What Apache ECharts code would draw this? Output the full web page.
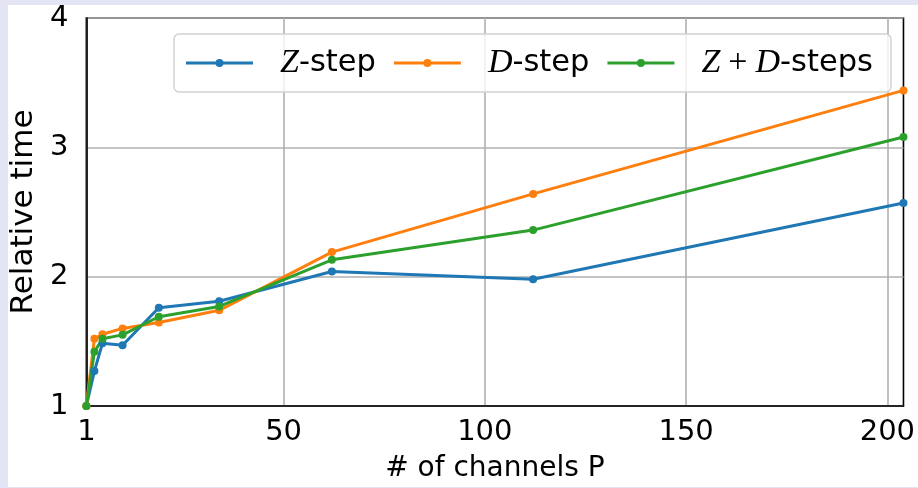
<!DOCTYPE html>
<html>
<head>
<meta charset="utf-8">
<script src="https://cdn.jsdelivr.net/npm/echarts@6/dist/echarts.min.js"></script>
<style>
  html, body { margin: 0; padding: 0; }
  #wrap { position: relative; width: 918px; height: 488px; background: #e3e4f4; overflow: hidden; }
  #panel { position: absolute; left: 8px; top: 5px; width: 910px; height: 482px; background: #ffffff; }
  #chart { position: absolute; left: 0; top: 0; width: 918px; height: 488px; }
</style>
</head>
<body>
<div id="wrap"><div id="panel"></div><div id="chart"></div></div>
<script>
const channels = [1, 3, 5, 10, 19, 34, 62, 112, 204];
const zStep = [1.0, 1.27, 1.485, 1.47, 1.76, 1.81, 2.04, 1.98, 2.57];
const dStep = [1.0, 1.52, 1.555, 1.60, 1.645, 1.74, 2.19, 2.64, 3.44];
const zdSteps = [1.0, 1.42, 1.52, 1.55, 1.69, 1.77, 2.13, 2.36, 3.08];
const xTicks = [1, 50, 100, 150, 200];
const yTicks = [1, 2, 3, 4];
const seriesNames = ['Z-step', 'D-step', 'Z+D-steps'];
const legendRich = {
  'Z-step': '{m|Z}-step',
  'D-step': '{m|D}-step',
  'Z+D-steps': '{m|Z}{p|+}{m|D}-steps'
};

const pair = (xs, ys) => xs.map((x, i) => [x, ys[i]]);
const colors = ['#1f77b4', '#ff7f0e', '#2ca02c'];
const font = 'DejaVu Sans';
const legendIcon = 'path://M0,2.5L67,2.5L67,5.5L0,5.5Z M29.5,4A4,4 0 1 1 37.5,4A4,4 0 1 1 29.5,4Z';

const chart = echarts.init(document.getElementById('chart'), null, { renderer: 'canvas' });
const mkSeries = (name, data, color) => ({
  name: name,
  type: 'line',
  data: data,
  color: color,
  symbol: 'circle',
  symbolSize: 8,
  showAllSymbol: true,
  lineStyle: { width: 3, color: color },
  itemStyle: { color: color },
  emphasis: { disabled: true },
  animation: false,
  clip: true
});

chart.setOption({
  backgroundColor: 'transparent',
  animation: false,
  textStyle: { fontFamily: font },
  grid: {
    left: 84, right: 14, top: 18, bottom: 82,
    show: true, borderColor: '#000000', borderWidth: 1.6, backgroundColor: 'transparent'
  },
  xAxis: {
    type: 'value',
    min: 1,
    max: 204,
    name: '# of channels P',
    nameLocation: 'middle',
    nameGap: 49,
    nameTextStyle: { fontFamily: font, fontSize: 28, color: '#000' },
    axisLine: { show: true, onZero: false, lineStyle: { color: '#000', width: 1.6 } },
    axisTick: { show: true, length: 0, customValues: xTicks },
    axisLabel: { customValues: xTicks, fontFamily: font, fontSize: 29, color: '#000', margin: 12 },
    splitLine: { show: true, lineStyle: { color: '#b0b0b0', width: 1.6 } }
  },
  yAxis: {
    type: 'value',
    min: yTicks[0],
    max: yTicks[yTicks.length - 1],
    interval: 1,
    name: 'Relative time',
    nameLocation: 'middle',
    nameGap: 46,
    nameTextStyle: { fontFamily: font, fontSize: 31, color: '#000' },
    axisLine: { show: true, onZero: false, lineStyle: { color: '#000', width: 1.6 } },
    axisTick: { show: false },
    axisLabel: { fontFamily: font, fontSize: 29, color: '#000', margin: 18 },
    splitLine: { show: true, lineStyle: { color: '#b0b0b0', width: 1.6 } }
  },
  legend: {
    left: 174,
    top: 34,
    orient: 'horizontal',
    data: seriesNames,
    icon: legendIcon,
    itemWidth: 67,
    itemHeight: 8,
    itemGap: 18,
    padding: [12, 18, 12, 12],
    backgroundColor: 'rgba(255,255,255,0.8)',
    borderColor: '#d2d2d2',
    borderWidth: 1.5,
    borderRadius: 5,
    selectedMode: false,
    itemStyle: { borderWidth: 0 },
    formatter: (n) => legendRich[n],
    textStyle: {
      fontFamily: font,
      fontSize: 30.5,
      color: '#000',
      padding: [0, 0, 0, 22],
      rich: {
        m: { fontFamily: 'Liberation Serif', fontStyle: 'italic', fontSize: 34, color: '#000' },
        p: { fontFamily: 'Liberation Serif', fontSize: 34, color: '#000', padding: [0, 8, 0, 8] }
      }
    }
  },
  series: [
    mkSeries(seriesNames[0], pair(channels, zStep), colors[0]),
    mkSeries(seriesNames[1], pair(channels, dStep), colors[1]),
    mkSeries(seriesNames[2], pair(channels, zdSteps), colors[2])
  ]
});
</script>
</body>
</html>
